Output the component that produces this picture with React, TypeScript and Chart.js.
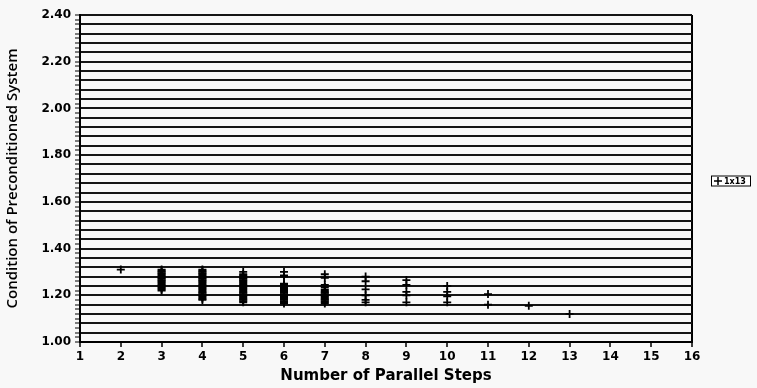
import React, { useEffect, useRef } from "react";
import { Chart, registerables } from "chart.js";

Chart.register(...registerables);

const seriesName = "1x13";
const step2 = [1.31];
const step3 = [1.31, 1.305, 1.30, 1.295, 1.29, 1.285, 1.28, 1.275, 1.27, 1.265, 1.26, 1.255, 1.25, 1.245, 1.24, 1.235, 1.23, 1.225, 1.22];
const step4 = [1.31, 1.305, 1.30, 1.295, 1.29, 1.285, 1.28, 1.275, 1.27, 1.265, 1.26, 1.255, 1.25, 1.245, 1.24, 1.235, 1.23, 1.225, 1.22, 1.215, 1.21, 1.205, 1.20, 1.195, 1.19, 1.185, 1.18];
const step5 = [1.30, 1.29, 1.285, 1.28, 1.275, 1.27, 1.265, 1.26, 1.255, 1.25, 1.245, 1.24, 1.235, 1.23, 1.225, 1.22, 1.215, 1.21, 1.205, 1.20, 1.195, 1.19, 1.185, 1.18, 1.175, 1.17];
const step6 = [1.30, 1.285, 1.28, 1.25, 1.245, 1.24, 1.235, 1.23, 1.225, 1.22, 1.215, 1.21, 1.205, 1.20, 1.195, 1.19, 1.185, 1.18, 1.175, 1.17, 1.165];
const step7 = [1.29, 1.275, 1.245, 1.235, 1.225, 1.22, 1.215, 1.21, 1.205, 1.20, 1.195, 1.19, 1.185, 1.18, 1.175, 1.17, 1.165];
const step8 = [1.28, 1.26, 1.225, 1.20, 1.18, 1.17];
const step9 = [1.265, 1.245, 1.215, 1.20, 1.17];
const step10 = [1.24, 1.215, 1.195, 1.17];
const step11 = [1.205, 1.16];
const step12 = [1.155];
const step13 = [1.12];
const stepGroups: [number, number[]][] = [
  [2, step2], [3, step3], [4, step4], [5, step5], [6, step6], [7, step7],
  [8, step8], [9, step9], [10, step10], [11, step11], [12, step12], [13, step13],
];
const xMin = 1;
const xMax = 16;
const yMin = 1.0;
const yMax = 2.4;
const xTitle = "Number of Parallel Steps";
const yTitle = "Condition of Preconditioned System";

const bgPlugin = {
  id: "bg",
  beforeDraw(chart: any) {
    const { ctx, width, height } = chart;
    ctx.save();
    ctx.fillStyle = "#f8f8f8";
    ctx.fillRect(0, 0, width, height);
    ctx.restore();
  },
};

const boxLegendPlugin = {
  id: "boxLegend",
  afterDraw(chart: any) {
    const { ctx, chartArea } = chart;
    const x = chartArea.right + 19;
    const cy = (chartArea.top + chartArea.bottom) / 2 + 2;
    const w = 39;
    const h = 10;
    ctx.save();
    ctx.fillStyle = "#ffffff";
    ctx.fillRect(x, cy - h / 2, w, h);
    ctx.strokeStyle = "#000";
    ctx.lineWidth = 1;
    ctx.strokeRect(x + 0.5, cy - h / 2 + 0.5, w, h);
    ctx.lineWidth = 1.5;
    ctx.beginPath();
    ctx.moveTo(x + 3, cy + 0.5);
    ctx.lineTo(x + 11, cy + 0.5);
    ctx.moveTo(x + 7, cy - 3.5);
    ctx.lineTo(x + 7, cy + 4.5);
    ctx.stroke();
    ctx.fillStyle = "#000";
    ctx.font = "bold 8px 'DejaVu Sans'";
    ctx.textBaseline = "middle";
    ctx.fillText(seriesName, x + 13, cy + 1);
    ctx.restore();
  },
};

export default function App() {
  const ref = useRef<HTMLCanvasElement | null>(null);

  useEffect(() => {
    if (!ref.current) return;
    const points: { x: number; y: number }[] = [];
    stepGroups.forEach(([s, vals]) => vals.forEach((v) => points.push({ x: s, y: v })));
    const chart = new Chart(ref.current, {
      type: "scatter",
      data: {
        datasets: [
          {
            label: seriesName,
            data: points,
            pointStyle: "cross",
            pointRadius: 4,
            pointBorderWidth: 1.8,
            borderColor: "#000",
            backgroundColor: "#000",
            showLine: false,
          },
        ],
      },
      options: {
        animation: false,
        responsive: false,
        maintainAspectRatio: false,
        layout: { padding: { left: 4, right: 65, top: 15, bottom: 2 } },
        plugins: {
          legend: { display: false },
          tooltip: { enabled: false },
        },
        scales: {
          x: {
            type: "linear",
            min: xMin,
            max: xMax,
            ticks: {
              stepSize: 1,
              color: "#000",
              font: { family: "'DejaVu Sans'", weight: "bold", size: 12 },
              padding: 3,
            },
            grid: {
              color: (c: any) => (c.tick && c.tick.value === xMax ? "#000" : "transparent"),
              lineWidth: 2,
              drawTicks: true,
              tickLength: 5,
              tickColor: "#000",
              tickWidth: 1.5,
            },
            border: { display: true, color: "#000", width: 2 },
            title: {
              display: true,
              text: xTitle,
              color: "#000",
              font: { family: "'DejaVu Sans'", weight: "bold", size: 15 },
              padding: { top: 2, bottom: 1 },
            },
            afterFit: (scale: any) => {
              scale.height = 44;
            },
          },
          y: {
            type: "linear",
            min: yMin,
            max: yMax,
            ticks: {
              stepSize: 0.02,
              maxTicksLimit: 200,
              autoSkip: false,
              color: "#000",
              font: { family: "'DejaVu Sans'", weight: "bold", size: 12 },
              padding: 4,
              callback: (v: any) => {
                const n = Math.round(Number(v) * 100);
                return n % 20 === 0 ? (n / 100).toFixed(2) : "";
              },
            },
            grid: {
              color: (c: any) => {
                if (!c.tick) return "transparent";
                const n = Math.round(c.tick.value * 100);
                return n % 4 === 0 ? "#151515" : "transparent";
              },
              lineWidth: 2,
              drawTicks: true,
              tickLength: 5,
              tickColor: "#000",
              tickWidth: 1,
            },
            border: { display: true, color: "#000", width: 2 },
            title: {
              display: true,
              text: yTitle,
              color: "#000",
              font: { family: "'Open Sans'", weight: "600", size: 15 },
              padding: { top: 0, bottom: 6 },
            },
            afterFit: (scale: any) => {
              scale.width = 76;
            },
          },
        },
      },
      plugins: [bgPlugin, boxLegendPlugin],
    });
    return () => chart.destroy();
  }, []);

  return (
    <div style={{ position: "absolute", left: 0, top: 0, width: 757, height: 388 }}>
      <canvas ref={ref} width={757} height={388} style={{ width: 757, height: 388 }} />
    </div>
  );
}
